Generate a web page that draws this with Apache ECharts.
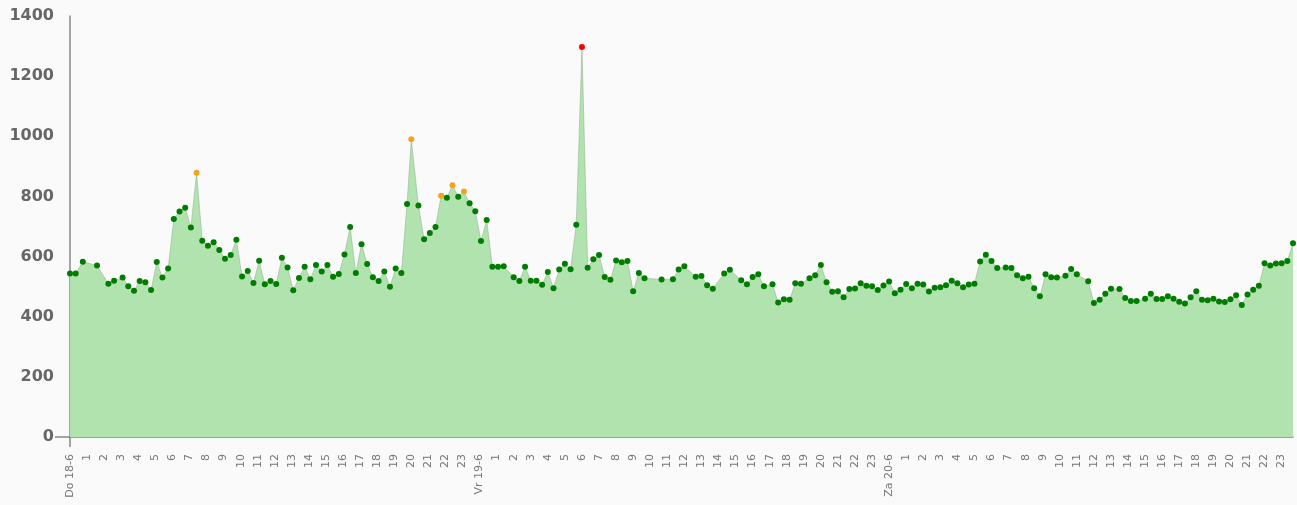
<!DOCTYPE html>
<html>
<head>
<meta charset="utf-8">
<script src="https://cdn.jsdelivr.net/npm/echarts@6/dist/echarts.min.js"></script>
<style>
  html, body { margin: 0; padding: 0; background: #fafafa; }
  #chart { width: 1297px; height: 505px; }
</style>
</head>
<body>
<div id="chart"></div>
<script>
// minutes since Do 18-6 00:00
const minutes = [
  0, 20, 45, 95, 135, 155, 185, 205, 225, 245, 265, 285, 305, 325, 345, 365, 385, 405, 425, 445,
  465, 485, 505, 525, 545, 565, 585, 605, 625, 645, 665, 685, 705, 725, 745, 765, 785, 805, 825, 845,
  865, 885, 905, 925, 945, 965, 985, 1005, 1025, 1045, 1065, 1085, 1105, 1125, 1145, 1165, 1185, 1200, 1225, 1245,
  1265, 1285, 1305, 1325, 1345, 1365, 1385, 1405, 1425, 1445, 1465, 1485, 1505, 1525, 1560, 1580, 1600, 1620, 1640, 1660,
  1680, 1700, 1720, 1740, 1760, 1780, 1800, 1820, 1840, 1860, 1880, 1900, 1920, 1940, 1960, 1980, 2000, 2020, 2080, 2120,
  2140, 2160, 2200, 2220, 2240, 2260, 2300, 2320, 2360, 2380, 2400, 2420, 2440, 2470, 2490, 2510, 2530, 2550, 2570, 2600,
  2620, 2640, 2660, 2680, 2700, 2720, 2740, 2760, 2780, 2800, 2820, 2840, 2860, 2880, 2900, 2920, 2940, 2960, 2980, 3000,
  3020, 3040, 3060, 3080, 3100, 3120, 3140, 3160, 3180, 3200, 3220, 3240, 3260, 3290, 3310, 3330, 3350, 3370, 3390, 3410,
  3430, 3450, 3470, 3500, 3520, 3540, 3580, 3600, 3620, 3640, 3660, 3690, 3710, 3730, 3750, 3780, 3800, 3820, 3840, 3860,
  3880, 3900, 3920, 3940, 3960, 3980, 4000, 4020, 4040, 4060, 4080, 4100, 4120, 4140, 4160, 4180, 4200, 4220, 4240, 4260,
  4280, 4300
];
const load = [
  544, 544, 583, 570, 510, 520, 530, 501, 486, 519, 515, 489, 582, 530, 560, 725, 750, 762, 697, 879,
  653, 636, 648, 622, 593, 605, 656, 534, 552, 512, 586, 508, 519, 509, 596, 564, 488, 529, 566, 525,
  572, 550, 572, 533, 542, 607, 698, 545, 641, 575, 531, 519, 550, 500, 560, 545, 775, 990, 770, 658,
  678, 698, 802, 796, 837, 799, 816, 777, 751, 652, 722, 566, 566, 568, 531, 519, 566, 520, 520, 506,
  549, 495, 557, 576, 558, 706, 1297, 563, 591, 605, 532, 523, 587, 581, 585, 485, 545, 528, 524, 525,
  557, 568, 533, 535, 505, 493, 544, 556, 521, 508, 532, 541, 501, 508, 447, 458, 456, 511, 510, 528,
  538, 572, 515, 483, 485, 465, 492, 494, 511, 503, 501, 489, 504, 517, 478, 490, 509, 495, 510, 507,
  484, 496, 498, 505, 520, 511, 498, 507, 510, 584, 606, 585, 562, 564, 562, 538, 528, 533, 495, 468,
  541, 531, 530, 536, 559, 541, 518, 446, 456, 476, 493, 492, 462, 452, 452, 460, 476, 459, 459, 468,
  460, 450, 444, 465, 485, 456, 455, 460, 451, 449, 458, 471, 439, 474, 490, 503, 578, 570, 577, 578,
  585, 644
];
const days = ["Do 18-6", "Vr 19-6", "Za 20-6"];

const chart = echarts.init(document.getElementById("chart"));

chart.setOption({
  animation: false,
  backgroundColor: "#fafafa",
  grid: { left: 70, right: 4, top: 16, bottom: 68, containLabel: false },
  xAxis: {
    type: "value",
    min: 0,
    max: 4300,
    interval: 60,
    axisLine: { lineStyle: { color: "#888", width: 1.5 } },
    axisTick: { show: true, customValues: [0], length: 10, lineStyle: { color: "#888", width: 1.5 } },
    splitLine: { show: false },
    axisLabel: {
      rotate: 90,
      margin: 17,
      fontFamily: "DejaVu Sans",
      fontSize: 11,
      color: "#777",
      showMaxLabel: false,
      formatter: function (v) {
        if (v % 1440 === 0) return days[v / 1440];
        return String((v / 60) % 24);
      }
    }
  },
  yAxis: {
    type: "value",
    min: 0,
    max: 1400,
    interval: 200,
    axisLine: { show: true, lineStyle: { color: "#888", width: 1.5 } },
    axisTick: { show: true, customValues: [0], length: 15, lineStyle: { color: "#888", width: 1.5 } },
    splitLine: { lineStyle: { color: "#e3e3e3", width: 1.5 } },
    axisLabel: {
      margin: 16,
      fontFamily: "DejaVu Sans",
      fontWeight: "bold",
      fontSize: 16,
      color: "#666",
      formatter: function (v) { return String(v); }
    }
  },
  series: [
    {
      type: "line",
      data: minutes.map((m, i) => [m, load[i]]),
      symbol: "circle",
      symbolSize: 6,
      showAllSymbol: true,
      lineStyle: { color: "rgba(140,160,140,0.45)", width: 1 },
      areaStyle: { color: "#b0e3ae", opacity: 1 },
      itemStyle: {
        color: function (p) {
          const v = p.value[1];
          if (v >= 1200) return "#ff0000";
          if (v >= 800) return "#f5a31e";
          return "#007d00";
        }
      }
    }
  ]
});
</script>
</body>
</html>
